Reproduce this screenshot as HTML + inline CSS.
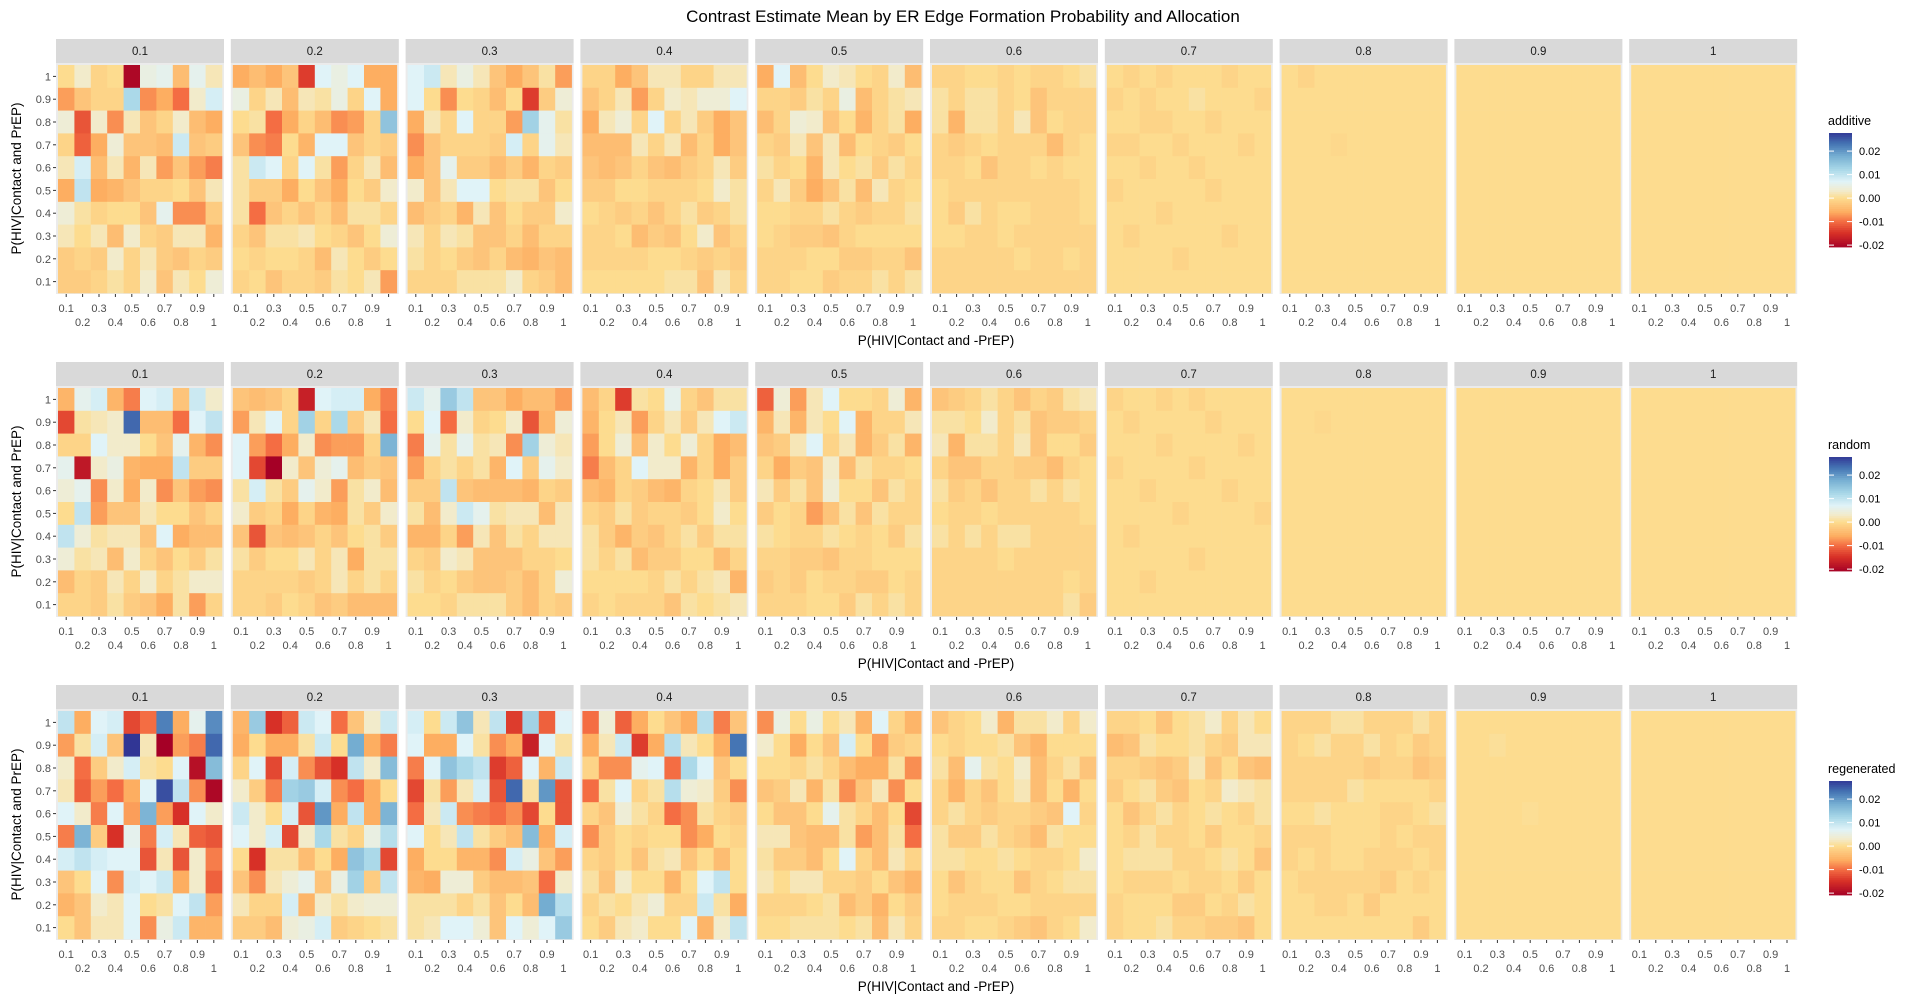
<!DOCTYPE html>
<html><head><meta charset="utf-8">
<style>
html,body{margin:0;padding:0;background:#fff;}
svg{display:block;font-family:"Liberation Sans",Arial,sans-serif;}
</style></head>
<body>
<svg id="chart" width="1919" height="1008" viewBox="0 0 1919 1008" xmlns="http://www.w3.org/2000/svg">
<rect x="0" y="0" width="1919" height="1008" fill="#fff"/>
<text x="963" y="22" font-size="17" text-anchor="middle" fill="#000">Contrast Estimate Mean by ER Edge Formation Probability and Allocation</text>
</svg>
<script>
// facet labels, axis ticks, row labels
const facetLabels = ["0.1","0.2","0.3","0.4","0.5","0.6","0.7","0.8","0.9","1"];
const xCats = [0.1,0.2,0.3,0.4,0.5,0.6,0.7,0.8,0.9,1];
const yCats = [1,0.9,0.8,0.7,0.6,0.5,0.4,0.3,0.2,0.1];
const xTickLabels = ["0.1","0.2","0.3","0.4","0.5","0.6","0.7","0.8","0.9","1"];
const yTickLabels = ["1","0.9","0.8","0.7","0.6","0.5","0.4","0.3","0.2","0.1"];
const rowNames = ["additive","random","regenerated"];
const legendTicks = [0.02,0.01,0.00,-0.01,-0.02];
const legendTickLabels = ["0.02","0.01","0.00","-0.01","-0.02"];
// values in thousandths; rows ordered y=1 (top) .. y=0.1, columns x=0.1..1
const additiveP1 = [0,3,-1,0,-20,5,6,-4,6,2, -7,-3,-1,-1,12,-8,-6,-10,3,8, 4,-12,3,-8,2,-3,-1,3,-4,-6, -1,-11,-6,4,-3,-3,-4,9,-3,-2, 2,8,-4,2,-5,2,-7,-3,-7,-9, -6,10,-6,-5,-3,-1,-1,0,-3,2, 4,1,-1,0,0,-3,6,-8,-8,-2, 2,0,2,-4,3,-1,-2,2,2,-5, -2,-1,-2,3,-1,2,-2,-3,-1,-2, -2,-2,-1,1,-1,3,-3,2,0,4];
const additiveP2 = [-6,-4,-6,-3,-14,7,5,7,-6,-6, 5,-1,2,-4,2,1,5,-1,7,-6, 0,1,-10,-6,-1,-4,-8,-7,-1,15, -3,-8,-9,0,-5,7,7,-3,-1,-2, 1,9,7,-1,7,1,-7,-1,2,-4, 1,-2,-2,-6,0,-3,-6,0,-2,3, 1,-10,-3,-1,-3,-1,-4,1,1,-1, -1,-3,1,1,2,0,-1,-3,0,4, 0,-1,0,0,-1,-4,2,0,-2,0, -1,0,-3,-1,-1,-2,1,0,2,-7];
const additiveP3 = [7,9,2,5,2,-3,-6,-3,1,-7, 7,0,-8,0,-1,-4,0,-14,-2,4, -6,2,-1,7,-1,-1,-7,13,6,1, -8,-3,-1,-1,-1,-2,8,-1,6,2, -6,-3,6,-2,-2,-4,-2,-5,-1,-2, 3,-3,2,7,7,0,1,1,-3,0, -4,-2,-1,-5,2,-3,0,-2,-2,3, 2,-1,2,1,-3,-3,-1,-4,-1,-1, 1,-1,0,-2,-3,-1,-4,-5,-3,-4, -1,-1,-1,1,1,1,3,-1,-2,-4];
const additiveP4 = [-1,-1,-6,-3,2,2,-1,-1,2,2, -3,-1,2,-7,-1,3,2,4,4,7, -6,2,4,-1,7,-1,2,-2,-6,-3, -4,-4,-4,2,-1,2,-4,-1,-6,-3, -3,-4,-3,-1,-3,-4,-2,-1,2,-2, -2,-2,0,0,-1,-1,-1,0,3,1, 0,-1,-2,-1,-3,-1,1,-2,-1,1, -1,-1,0,-4,-2,-3,0,3,-3,-1, -1,-1,-1,-1,0,0,-1,-2,-1,-2, 0,0,0,0,0,1,1,-3,2,-1];
const additiveP5 = [-6,7,-4,0,3,2,0,-1,3,-4, -1,-1,-2,1,-1,5,-4,-1,1,2, -4,-1,4,3,-3,0,-5,-1,1,-6, -1,-2,2,-3,2,-4,0,-1,-2,0, 1,-1,0,-5,2,0,1,-2,1,-1, -1,2,-2,-6,-3,1,-4,2,-1,0, 0,0,-1,-1,1,-1,-2,-1,-1,1, 0,-1,-2,-2,-3,-1,0,0,0,0, -1,-1,-1,0,0,-2,-2,-1,-1,-3, -1,-1,0,0,-2,-1,-1,1,-1,1];
const additiveP6 = [-1,-1,0,0,-1,0,-1,-1,0,1, 1,-1,1,1,-1,0,-3,-1,-1,-1, 1,-5,1,1,-1,2,-3,0,-1,-1, -1,-2,-1,0,-1,-1,-1,-4,-1,0, -1,-1,0,-3,-1,-1,0,-1,0,0, 0,-1,-1,-1,-1,-1,-1,-1,-1,0, 0,-2,1,-1,0,0,-1,-1,-1,0, 0,0,-1,-1,0,-1,-1,-1,-1,-1, -1,-1,-1,-1,-1,0,-1,-1,0,-1, -1,-1,-1,-1,-1,-1,-1,-1,-1,-1];
const additiveP7 = [0,-1,0,-1,0,0,0,-1,0,0, -1,0,-1,0,0,1,0,0,0,-1, 0,0,-1,-1,0,0,-1,0,0,0, -1,-1,0,0,-1,0,0,0,-1,0, 0,0,-1,0,0,-1,0,0,0,0, -1,0,0,0,0,0,-1,0,0,0, 0,0,0,-1,0,0,0,0,0,0, 0,-1,0,0,0,0,0,-1,0,0, 0,0,0,0,-1,0,0,0,0,0, 0,0,0,0,0,0,0,0,0,0];
const additiveP8 = [0,-1,0,0,0,0,0,0,0,0, 0,0,0,0,0,0,0,0,0,0, 0,0,0,0,0,0,0,0,0,0, 0,0,0,-0.5,0,0,0,0,0,0, 0,0,0,0,0,0,0,0,0,0, 0,0,0,0,0,0,0,0,0,0, 0,0,0,0,0,0,0,0,0,0, 0,0,0,0,0,0,0,0,0,0, 0,0,0,0,0,0,0,0,0,0, 0,0,0,0,0,0,0,0,0,0];
const additiveP9 = [0,0,0,0,0,0,0,0,0,0, 0,0,0,0,0,0,0,0,0,0, 0,0,0,0,0,0,0,0,0,0, 0,0,0,0,0,0,0,0,0,0, 0,0,0,0,0,0,0,0,0,0, 0,0,0,0,0,0,0,0,0,0, 0,0,0,0,0,0,0,0,0,0, 0,0,0,0,0,0,0,0,0,0, 0,0,0,0,0,0,0,0,0,0, 0,0,0,0,0,0,0,0,0,0];
const additiveP10 = [0,0,0,0,0,0,0,0,0,0, 0,0,0,0,0,0,0,0,0,0, 0,0,0,0,0,0,0,0,0,0, 0,0,0,0,0,0,0,0,0,0, 0,0,0,0,0,0,0,0,0,0, 0,0,0,0,0,0,0,0,0,0, 0,0,0,0,0,0,0,0,0,0, 0,0,0,0,0,0,0,0,0,0, 0,0,0,0,0,0,0,0,0,0, 0,0,0,0,0,0,0,0,0,0];

const randomP1 = [-5,6,8,-5,-9,7,8,-3,9,3, -13,1,2,3,24,-4,-4,-10,7,10, -1,-1,7,3,3,0,-3,6,-5,-8, 6,-18,3,5,-5,-6,-6,10,-2,-2, 4,6,-8,3,-6,3,-8,-3,-7,-8, 0,10,-7,-3,-3,2,0,0,-3,-1, 10,4,1,2,2,-3,7,-6,-4,-4, 4,1,2,-4,3,-1,-3,0,-2,1, -4,-1,-2,2,-1,3,-1,1,3,3, -1,-1,-2,1,-2,-3,-6,1,-7,-1];
const randomP2 = [-3,-4,-3,-1,-17,7,8,8,-6,-9, -7,2,7,-1,13,-1,12,-2,2,-10, 7,-7,-10,-6,3,-8,-7,-7,-1,17, 7,-13,-21,3,-3,4,6,-4,-2,-3, 1,8,1,-2,6,3,-7,1,3,-4, 3,-2,-1,-6,-1,-5,-6,1,-2,3, -3,-12,-3,-4,-3,-1,-3,0,1,-2, 1,-2,0,0,2,-1,2,-6,1,1, -1,-1,-1,-1,-2,-1,2,-1,1,-1, -1,-1,-2,0,-1,-3,-2,-4,-4,-4];
const randomP3 = [9,6,14,10,-3,-3,-6,-4,-4,-7, 0,7,-10,3,-1,0,3,-12,-5,4, -9,6,1,6,1,2,-8,13,4,2, -7,-1,1,-1,1,-5,7,-2,6,3, -2,-2,10,-3,-4,-4,-4,-5,-1,-2, 1,-4,3,9,6,1,2,2,-4,2, -5,-5,-1,-7,2,-3,1,-1,2,2, -1,-2,3,2,-3,-3,-3,-1,-1,0, 1,-1,0,-2,-3,-3,-2,-4,-1,4, 0,0,-1,1,1,1,-2,-4,-1,-2];
const randomP4 = [-4,-1,-14,1,0,6,-1,-3,1,1, -5,0,2,-7,-1,2,-2,2,7,9, -7,0,4,-4,3,0,4,-1,-6,-4, -9,-4,-1,7,3,3,-5,-1,-6,-2, -4,-5,-1,-2,-4,-5,-1,0,2,-2, -1,-2,1,-2,-1,-1,-2,0,3,0, 1,-2,-5,-2,-3,-1,1,-2,1,1, 1,-1,1,-4,-2,-2,0,0,-4,-1, 0,0,0,0,-1,1,-1,1,2,-5, -1,0,-1,-1,-1,-3,1,0,1,2];
const randomP5 = [-11,4,-7,2,7,0,0,-1,4,-5, -5,2,-5,2,0,7,-5,-1,-1,2, -3,-2,2,7,-1,2,-5,-2,1,-5, -1,-6,-2,-3,3,-4,1,-1,-1,0, 2,-2,1,-3,4,0,0,-3,1,-1, -2,0,-1,-7,-3,1,-3,1,-1,-1, 1,0,-1,-1,1,0,-1,0,-2,1, -1,-1,-2,-2,-3,-1,-1,0,0,0, -2,-1,-2,0,-1,-1,-2,-2,0,-1, -1,-1,-1,0,0,-2,1,-1,1,-1];
const randomP6 = [-3,-2,-1,1,-1,-3,-1,-2,1,2, 1,1,0,3,-1,1,-3,-2,-2,-1, 2,-5,1,1,-1,2,-3,0,0,-2, -1,-3,-3,-1,-1,-2,-2,-4,-1,0, 1,-2,-1,-3,-1,-1,1,-1,1,0, 0,-1,-1,0,-1,-1,-1,-1,-1,0, 1,-1,1,-1,1,1,-1,-1,-1,-1, -1,-1,-1,-1,0,-1,-1,-1,-1,-1, -1,-1,-1,-1,-1,-1,-1,-1,0,-1, -1,-1,-1,-1,-1,-1,-1,-1,1,-2];
const randomP7 = [-1,0,0,-1,0,-1,0,0,0,0, 0,-1,0,0,0,0,-1,0,0,0, 0,0,0,-1,0,0,0,0,-1,0, -1,0,0,0,0,-1,0,0,0,0, 0,0,-1,0,0,0,0,-1,0,0, 0,0,0,0,-1,0,0,0,0,-1, 0,-1,0,0,0,0,0,0,0,0, 0,0,0,0,0,-1,0,0,0,0, 0,0,-1,0,0,0,0,0,0,0, 0,0,0,0,0,0,0,0,0,0];
const randomP8 = [0,0,0,0,0,0,0,0,0,0, 0,0,-0.5,0,0,0,0,0,0,0, 0,0,0,0,0,0,0,0,0,0, 0,0,0,0,0,0,0,0,0,0, 0,0,0,0,0,0,0,0,0,0, 0,0,0,0,0,0,0,0,0,0, 0,0,0,0,0,0,0,0,0,0, 0,0,0,0,0,0,0,0,0,0, 0,0,0,0,0,0,0,0,0,0, 0,0,0,0,0,0,0,0,0,0];
const randomP9 = [0,0,0,0,0,0,0,0,0,0, 0,0,0,0,0,0,0,0,0,0, 0,0,0,0,0,0,0,0,0,0, 0,0,0,0,0,0,0,0,0,0, 0,0,0,0,0,0,0,0,0,0, 0,0,0,0,0,0,0,0,0,0, 0,0,0,0,0,0,0,0,0,0, 0,0,0,0,0,0,0,0,0,0, 0,0,0,0,0,0,0,0,0,0, 0,0,0,0,0,0,0,0,0,0];
const randomP10 = [0,0,0,0,0,0,0,0,0,0, 0,0,0,0,0,0,0,0,0,0, 0,0,0,0,0,0,0,0,0,0, 0,0,0,0,0,0,0,0,0,0, 0,0,0,0,0,0,0,0,0,0, 0,0,0,0,0,0,0,0,0,0, 0,0,0,0,0,0,0,0,0,0, 0,0,0,0,0,0,0,0,0,0, 0,0,0,0,0,0,0,0,0,0, 0,0,0,0,0,0,0,0,0,0];

const regenP1 = [10,-6,7,8,-13,-10,22,-6,6,21, -7,1,8,-3,28,2,-21,-7,-9,24, 3,-10,-2,3,8,1,0,7,-19,16, 2,-11,-7,-10,-6,7,26,10,-8,-20, 7,3,-9,7,-7,17,-7,-15,7,3, -9,17,-2,-15,6,-9,8,2,-11,-12, 8,10,8,7,7,-12,2,-12,3,-9, -3,0,7,-8,8,7,9,-6,3,-11, -5,-3,3,2,7,0,1,7,10,-7, 0,-3,2,2,7,-8,5,9,-5,-5];
const regenP2 = [-5,14,-15,-11,9,7,-10,-3,3,9, -6,0,-6,-6,1,9,0,18,-6,-9, -1,7,-13,8,-8,-12,-15,10,3,16, 3,-2,-9,13,14,8,-8,-10,-6,0, 9,3,0,8,-12,20,-6,10,-6,17, 7,3,8,-13,3,12,1,-1,5,11, 0,-15,1,1,-4,0,-6,15,12,-13, -3,-8,2,4,6,-3,5,13,-2,10, 2,-1,-1,8,-5,3,1,3,4,4, -2,-2,-4,4,5,8,-2,-1,0,1];
const regenP3 = [8,0,9,15,2,10,-14,13,-11,7, 7,-6,-6,7,1,-8,-6,-17,7,1, -9,7,15,12,10,-14,-11,7,-5,9, -13,1,-7,2,8,-12,24,1,20,-12, -10,2,9,-8,-9,-10,-8,-13,0,-12, 7,0,2,10,1,-2,-4,16,-6,8, -6,0,0,-5,-5,-8,8,5,-3,-7, -5,-6,4,4,-2,-4,-4,-3,-10,3, 1,1,1,-1,1,-3,0,-4,18,11, 1,2,7,7,4,-3,7,4,7,14];
const regenP4 = [-10,4,-11,-6,0,-3,-6,11,-9,-3, -6,2,9,-14,-6,11,2,0,-6,23, -1,-8,-8,6,7,-10,12,7,-3,0, -10,1,7,-1,1,11,4,3,-2,-8, -1,-3,4,1,-1,-10,-8,1,-1,-2, -8,-2,0,-1,0,0,-8,-6,0,-1, -1,-2,0,-3,1,2,-3,0,-4,0, 1,-3,3,0,0,-5,0,7,10,0, -1,1,0,2,4,-1,-1,9,1,-6, 0,-2,2,3,0,0,7,-5,3,10];
const regenP5 = [-8,5,0,5,0,2,-5,7,-1,-5, 3,0,-6,0,-3,8,0,-7,-2,-1, 0,0,-1,1,-1,-4,-6,-6,1,-8, -3,-2,2,-5,1,-8,-3,2,-8,0, 0,-3,-3,0,6,1,-1,-4,0,-13, 2,2,-3,-4,-4,1,-7,-4,1,-10, 1,-2,-2,-4,0,7,-1,-4,2,-1, 2,0,2,2,-1,-1,-2,0,-3,-5, -1,-1,-1,0,1,-4,-2,-5,0,-2, 0,0,1,1,1,0,1,-4,2,-1];
const regenP6 = [-3,-1,0,3,-5,1,1,3,-1,3, 0,-1,0,0,1,-3,-5,0,0,0, 1,-4,6,1,0,3,-4,-1,1,-3, -1,-5,-1,-3,0,2,-4,0,-5,0, -1,1,-1,-2,-1,-1,-2,-3,7,-1, 1,-2,-2,1,-1,-2,-4,1,0,0, 1,1,0,0,1,0,-1,-1,0,3, 0,-3,-1,0,0,-3,-1,0,1,1, 0,-1,-1,-1,0,0,-1,-1,-1,-1, -1,-1,0,0,-1,-2,-3,-1,0,3];
const regenP7 = [-1,-1,0,-3,0,1,3,-1,2,0, -4,-3,1,0,0,1,-1,-2,2,2, -1,-1,-2,-3,-2,2,-3,0,-3,-4, -2,0,1,-2,-3,0,-1,3,2,1, 0,-3,-1,1,-1,0,1,0,-1,1, 0,-1,1,-1,-1,0,-2,0,0,-1, 0,1,1,1,-1,-1,0,1,0,-3, 0,-1,-1,-1,0,-1,-1,0,-2,0, -1,0,0,0,-2,-2,0,-1,1,0, -1,0,0,1,-1,-1,-2,-2,-3,0];
const regenP8 = [-1,-1,-1,1,1,-1,-1,-1,1,-1, -1,0,1,-1,-1,1,-1,0,-2,-1, -1,-1,-1,-1,-1,-2,-1,-1,-3,-2, -1,-1,-1,-1,1,0,0,0,0,-1, 0,0,1,0,0,0,-1,-1,0,1, -1,-1,-1,0,0,0,-1,0,-1,-1, -1,0,-1,0,0,-1,-1,-1,0,-1, 0,-1,-1,-1,-1,-1,-2,0,-1,0, 0,0,-1,-1,0,-2,0,0,0,0, 0,0,0,0,0,0,0,0,-2,0];
const regenP9 = [0,0,0,0,0,0,0,0,0,0, 0,0,0.5,0,0,0,0,0,0,0, 0,0,0,0,0,0,0,0,0,0, 0,0,0,0,0,0,0,0,0,0, 0,0,0,0,0.3,0,0,0,0,0, 0,0,0,0,0,0,0,0,0,0, 0,0,0,0,0,0,0,0,0,0, 0,0,0,0,0,0,0,0,0,0, 0,0,0,0,0,0,0,0,0,0, 0,0,0,0,0,0,0,0,0,0];
const regenP10 = [0,0,0,0,0,0,0,0,0,0, 0,0,0,0,0,0,0,0,0,0, 0,0,0,0,0,0,0,0,0,0, 0,0,0,0,0,0,0,0,0,0, 0,0,0,0,0,0,0,0,0,0, 0,0,0,0,0,0,0,0,0,0, 0,0,0,0,0,0,0,0,0,0, 0,0,0,0,0,0,0,0,0,0, 0,0,0,0,0,0,0,0,0,0, 0,0,0,0,0,0,0,0,0,0];

const additiveFacets = [additiveP1,additiveP2,additiveP3,additiveP4,additiveP5,additiveP6,additiveP7,additiveP8,additiveP9,additiveP10];
const randomFacets = [randomP1,randomP2,randomP3,randomP4,randomP5,randomP6,randomP7,randomP8,randomP9,randomP10];
const regenFacets = [regenP1,regenP2,regenP3,regenP4,regenP5,regenP6,regenP7,regenP8,regenP9,regenP10];
const allRows = [additiveFacets, randomFacets, regenFacets];

(function(){
const NS = "http://www.w3.org/2000/svg";
const svg = document.getElementById("chart");
function el(tag, attrs, parent){ const e=document.createElementNS(NS,tag); for(const k in attrs) e.setAttribute(k,attrs[k]); (parent||svg).appendChild(e); return e; }
const stops = [[-0.021,[165,0,38]],[-0.015,[215,48,39]],[-0.010,[244,109,67]],[-0.006,[253,174,97]],[-0.003,[253,196,122]],[0,[253,220,143]],[0.003,[242,235,203]],[0.007,[224,243,248]],[0.012,[171,217,233]],[0.018,[116,173,209]],[0.023,[69,117,180]],[0.028,[49,54,149]]];
function color(v){
  if(v<=stops[0][0]) return "rgb("+stops[0][1].join(",")+")";
  for(let i=1;i<stops.length;i++){
    if(v<=stops[i][0]){ const a=stops[i-1],b=stops[i]; const t=(v-a[0])/(b[0]-a[0]);
      return "rgb("+[0,1,2].map(j=>Math.round(a[1][j]+(b[1][j]-a[1][j])*t)).join(",")+")"; }
  }
  return "rgb("+stops[stops.length-1][1].join(",")+")";
}
const panelX0=56, pitch=174.8, panelW=168, stripH=24, panelH=231, rowPitch=323, firstStrip=39;
const cellW=16.4, cellH=22.8;
function xScale(panel, xv){ return panelX0+panel*pitch+2+(Math.round(xv*10)-1)*cellW; }
function yScale(row, yv){ return firstStrip+row*rowPitch+stripH+2+(10-Math.round(yv*10))*cellH; }
allRows.forEach((facets, r)=>{
  const stripTop = firstStrip + r*rowPitch;
  const pTop = stripTop+stripH, pBot = pTop+panelH;
  facets.forEach((vals, p)=>{
    const x0 = panelX0+p*pitch;
    const g = el("g",{});
    
    
    const st = el("rect",{x:x0,y:stripTop,width:panelW,height:stripH,fill:"#D9D9D9"},g);
    
    
    const stt = el("text",{x:x0+panelW/2,y:stripTop+16,"font-size":"11.5","text-anchor":"middle",fill:"#1A1A1A"},g);
    stt.textContent = facetLabels[p];
    
    
    const bg = el("rect",{x:x0,y:pTop,width:panelW,height:panelH,fill:"#EBEBEB"},g);
    
    
    for(let i=0;i<100;i++){
      const yv=yCats[Math.floor(i/10)], xv=xCats[i%10];
      const c = el("rect",{x:xScale(p,xv).toFixed(2),y:yScale(r,yv).toFixed(2),width:(cellW+0.3).toFixed(2),height:(cellH+0.3).toFixed(2),fill:color(vals[i]/1000)},g);
      
      
    }
    xCats.forEach((xv,k)=>{
      const cx = xScale(p,xv)+cellW/2;
      el("line",{x1:cx,x2:cx,y1:pBot,y2:pBot+3,stroke:"#333","stroke-width":1},g);
      const t = el("text",{x:cx,y:pBot+(k%2===0?18:32),"font-size":"11","text-anchor":"middle",fill:"#4D4D4D"},g);
      t.textContent = xTickLabels[k];
      
      
    });
  });
  yCats.forEach((yv,k)=>{
    const cy = yScale(r,yv)+cellH/2;
    el("line",{x1:53,x2:56,y1:cy,y2:cy,stroke:"#333","stroke-width":1});
    const t = el("text",{x:51,y:cy+4,"font-size":"11","text-anchor":"end",fill:"#4D4D4D"});
    t.textContent = yTickLabels[k];
    
    
  });
  const xt = el("text",{x:936,y:pBot+51,"font-size":"13.5","text-anchor":"middle",fill:"#000"});
  xt.textContent = "P(HIV|Contact and -PrEP)";
  
  
  const cyM = (pTop+pBot)/2;
  const yt = el("text",{x:0,y:0,"font-size":"13.5","text-anchor":"middle",fill:"#000",transform:"translate(21,"+cyM+") rotate(-90)"});
  yt.textContent = "P(HIV|Contact and PrEP)";
  
  
  const lg = el("g",{});
  
  
  const barTop = 133 + r*324, barH = 114, vmax = 0.0277, vmin = -0.0208;
  const lt = el("text",{x:1828,y:barTop-8,"font-size":"12.5",fill:"#000"},lg);
  lt.textContent = rowNames[r];
  
  
  const N=60, seg=barH/N;
  for(let i=0;i<N;i++){
    const v = vmax - (i+0.5)/N*(vmax-vmin);
    el("rect",{x:1829,y:(barTop+i*seg).toFixed(2),width:23,height:(seg+0.4).toFixed(2),fill:color(v)},lg);
  }
  legendTicks.forEach((v,k)=>{
    const y = barTop + (vmax-v)/(vmax-vmin)*barH;
    el("line",{x1:1829,x2:1834,y1:y,y2:y,stroke:"#fff","stroke-width":1},lg);
    el("line",{x1:1847,x2:1852,y1:y,y2:y,stroke:"#fff","stroke-width":1},lg);
    const t = el("text",{x:1859,y:y+4,"font-size":"11",fill:"#000"},lg);
    t.textContent = legendTickLabels[k];
    
    
  });
});
})();
</script>
</body></html>
